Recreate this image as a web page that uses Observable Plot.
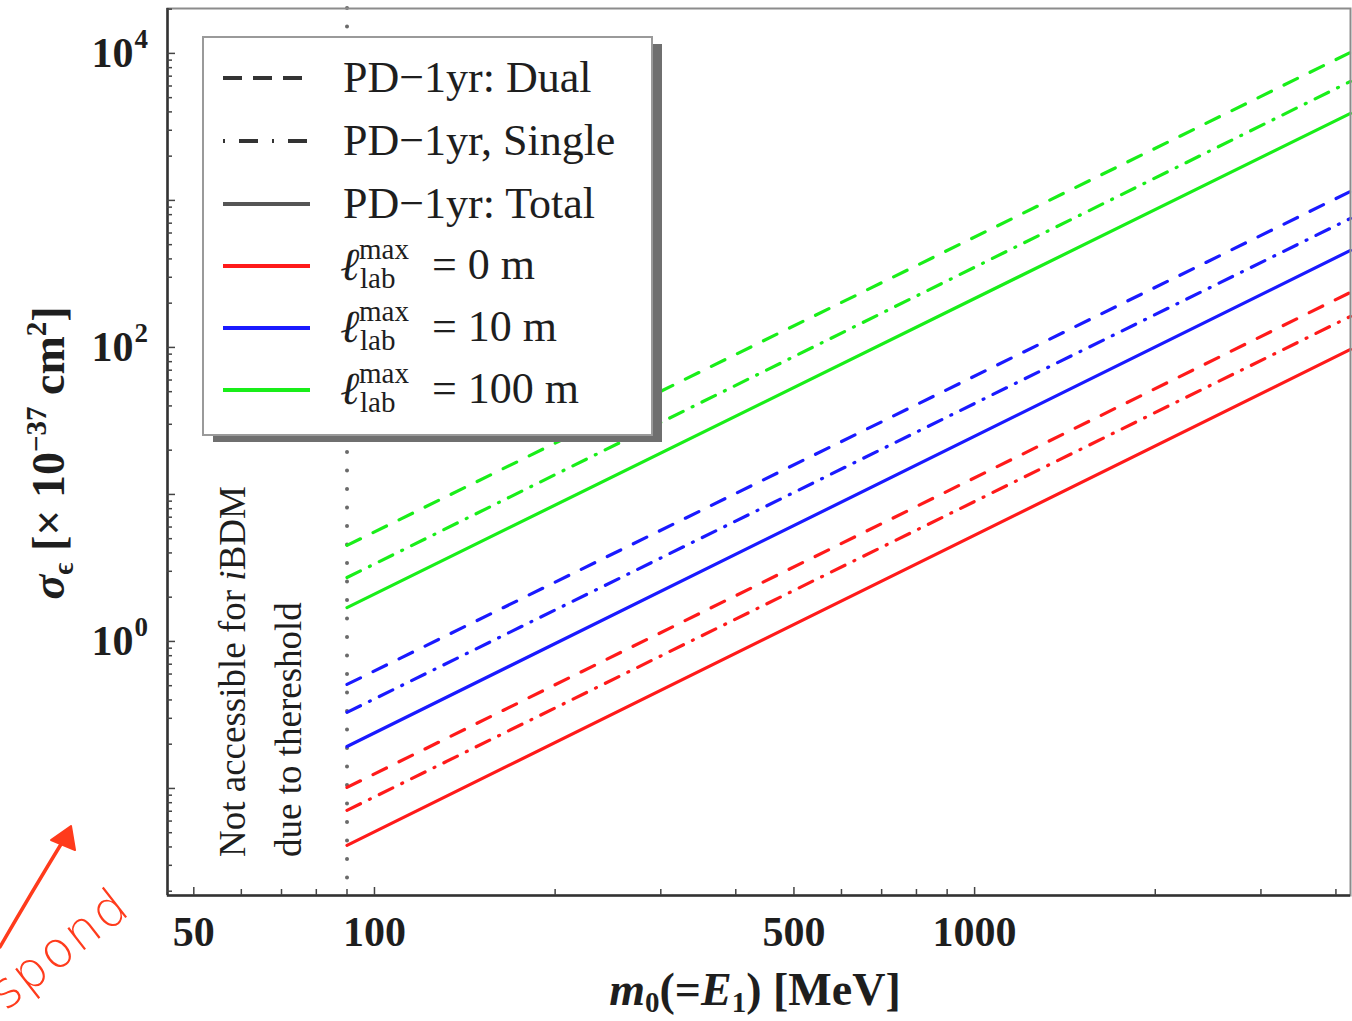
<!DOCTYPE html>
<html>
<head>
<meta charset="utf-8">
<script src="https://cdn.jsdelivr.net/npm/d3@7"></script>
<script src="https://cdn.jsdelivr.net/npm/@observablehq/plot@0.6"></script>
<style>
  body { margin: 0; background: #fff; }
  #chart { position: relative; width: 1352px; height: 1021px; }
</style>
</head>
<body>
<div id="chart"></div>
<script>
// Maximum lab-frame decay length cases, one colour each
const decayLengths = ["0 m", "10 m", "100 m"];
const lineColors = ["#ff1a1a", "#1a1aff", "#19ee19"];

// Every sensitivity curve is a straight power law on log–log axes,
// so each one is given by its values at the two ends of the mass range.
const massEnds = [90, 4230];                       // m0 (=E1) in MeV
const dualSigma   = [[0.1016, 237], [0.510, 1151], [4.50, 10160]];
const singleSigma = [[0.0709, 162.5], [0.329, 754], [2.72, 6450]];
const totalSigma  = [[0.041, 96.9], [0.193, 457], [1.70, 3905]];

// Threshold below which iBDM is not accessible
const thresholdMass = [90];

// Axis ticks
const xLabelTicks = [50, 100, 500, 1000];
const xMinorTicks = [60, 70, 80, 90, 200, 300, 400, 600, 700, 800, 900, 2000, 3000, 4000];
const yLabelTicks = [1, 100, 10000];
const yDecades = [0.1, 1, 10, 100, 1000, 10000];
const yMinorMultipliers = [2, 3, 4, 5, 6, 7, 8, 9];

const xDomain = [45.2, 4230];
const yDomain = [0.0187, 20200];

const W = 1352, H = 1021;
const M = { top: 8, right: 2, bottom: 126, left: 167 };
const plotW = W - M.left - M.right;
const plotH = H - M.top - M.bottom;

const yMinorTicks = [];
[0.01, 0.1, 1, 10, 100, 1000, 10000].forEach(dec =>
  yMinorMultipliers.forEach(k => {
    const v = k * dec;
    if (v > yDomain[0] && v < yDomain[1]) yMinorTicks.push(v);
  })
);

// Long-format table for the line marks
const rows = [];
[["dual", dualSigma], ["single", singleSigma], ["total", totalSigma]].forEach(([kind, arr]) => {
  arr.forEach((pair, i) => {
    pair.forEach((s, j) => rows.push({ kind, length: decayLengths[i], color: lineColors[i], m: massEnds[j], sigma: s }));
  });
});

const dashes = { dual: "15,14", single: "15,10,1,10", total: null };

const serif = "'Liberation Serif', 'Times New Roman', serif";

const plot = Plot.plot({
  width: W,
  height: H,
  marginTop: M.top,
  marginRight: M.right,
  marginBottom: M.bottom,
  marginLeft: M.left,
  x: { type: "log", domain: xDomain, axis: null },
  y: { type: "log", domain: yDomain, axis: null },
  style: { fontFamily: serif, background: "#fff", color: "#222" },
  marks: [
    Plot.ruleX(thresholdMass, { stroke: "#6a6a6a", strokeWidth: 4, strokeDasharray: "0,18.5", strokeLinecap: "round" }),
    ...["dual", "single", "total"].map(kind =>
      Plot.line(rows.filter(d => d.kind === kind), {
        x: "m", y: "sigma", z: "length", stroke: "color",
        strokeWidth: 3.2,
        strokeLinecap: "round",
        ...(dashes[kind] ? { strokeDasharray: dashes[kind] } : {})
      })
    ),
    // frame: grey top/right, dark left/bottom axes
    Plot.frame({ stroke: "#8c8c8c", strokeWidth: 2 }),
    Plot.ruleX([xDomain[0]], { stroke: "#333", strokeWidth: 2.5 }),
    Plot.ruleY([yDomain[0]], { stroke: "#333", strokeWidth: 2.5 }),
    // inward-pointing ticks
    Plot.ruleX(xMinorTicks, { insetTop: plotH - 6, stroke: "#444", strokeWidth: 1.5 }),
    Plot.ruleX(xLabelTicks, { insetTop: plotH - 8, stroke: "#444", strokeWidth: 1.5 }),
    Plot.ruleY(yMinorTicks, { insetRight: plotW - 5, stroke: "#444", strokeWidth: 1.5 }),
    Plot.ruleY(yDecades, { insetRight: plotW - 8, stroke: "#444", strokeWidth: 1.5 }),
    // tick labels
    Plot.text(xLabelTicks, {
      x: d => d, text: d => String(d), frameAnchor: "bottom", dy: 37,
      fontSize: 42, fontWeight: "bold", lineAnchor: "middle", fill: "#1e1e1e"
    }),
    Plot.text(yLabelTicks, {
      y: d => d, text: () => "10", frameAnchor: "left", dx: -34, textAnchor: "end",
      fontSize: 42, fontWeight: "bold", lineAnchor: "middle", fill: "#1e1e1e"
    }),
    Plot.text(yLabelTicks, {
      y: d => d, text: d => String(Math.round(Math.log10(d))), frameAnchor: "left", dx: -33, dy: -14,
      textAnchor: "start", fontSize: 27, fontWeight: "bold", lineAnchor: "middle", fill: "#1e1e1e"
    })
  ]
});

document.getElementById("chart").appendChild(plot);

const svg = d3.select(plot);
const ink = "#1e1e1e";

function styled(sel, size, anchor) {
  return sel.style("font-family", serif).style("font-size", size + "px")
    .style("text-anchor", anchor).attr("fill", ink);
}

// Y axis title
const yl = styled(svg.append("text"), 46, "middle")
  .attr("transform", "translate(64,453) rotate(-90)")
  .style("font-weight", "bold");
yl.append("tspan").style("font-style", "italic").text("σ");
yl.append("tspan").style("font-size", "29px").attr("dy", 9).text("ϵ");
yl.append("tspan").attr("dy", -9).text(" [× 10");
yl.append("tspan").style("font-size", "29px").attr("dy", -18).text("−37");
yl.append("tspan").attr("dy", 18).text(" cm");
yl.append("tspan").style("font-size", "29px").attr("dy", -18).text("2");
yl.append("tspan").attr("dy", 18).text("]");

// X axis title
const xl = styled(svg.append("text"), 46, "middle")
  .attr("x", 755).attr("y", 1005)
  .style("font-weight", "bold");
xl.append("tspan").style("font-style", "italic").text("m");
xl.append("tspan").style("font-size", "29px").attr("dy", 7).text("0");
xl.append("tspan").attr("dy", -7).text("(=");
xl.append("tspan").style("font-style", "italic").text("E");
xl.append("tspan").style("font-size", "29px").attr("dy", 7).text("1");
xl.append("tspan").attr("dy", -7).text(") [MeV]");

// Note in the inaccessible region
const n1 = styled(svg.append("text"), 37, "start").attr("transform", "translate(245,857) rotate(-90)");
n1.append("tspan").text("Not accessible for ");
n1.append("tspan").style("font-style", "italic").text("i");
n1.append("tspan").text("BDM");
styled(svg.append("text"), 37, "start").attr("transform", "translate(301,857) rotate(-90)").text("due to thereshold");

// Legend
const lg = svg.append("g");
lg.append("rect").attr("x", 213).attr("y", 44).attr("width", 449).attr("height", 398).attr("fill", "#6f6f6f");
lg.append("rect").attr("x", 203).attr("y", 37).attr("width", 449).attr("height", 398)
  .attr("fill", "#fff").attr("stroke", "#9a9a9a").attr("stroke-width", 2);

const legendRows = [
  { label: "PD−1yr: Dual", color: "#333", dash: "19,11" },
  { label: "PD−1yr, Single", color: "#333", dash: "2,14,19,14" },
  { label: "PD−1yr: Total", color: "#555", dash: null },
  { ell: "0 m", color: lineColors[0], dash: null },
  { ell: "10 m", color: lineColors[1], dash: null },
  { ell: "100 m", color: lineColors[2], dash: null }
];
const rowY = [78, 141, 204, 266, 328, 390];
legendRows.forEach((r, i) => {
  const cy = rowY[i];
  const ln = lg.append("line").attr("x1", 223).attr("x2", 310).attr("y1", cy).attr("y2", cy)
    .attr("stroke", r.color).attr("stroke-width", 4);
  if (r.dash) ln.attr("stroke-dasharray", r.dash);
  if (r.label) {
    styled(lg.append("text"), 44, "start").attr("x", 343).attr("y", cy + 14).text(r.label);
  } else {
    styled(lg.append("text"), 46, "start").attr("x", 340).attr("y", cy + 14).style("font-style", "italic").text("ℓ");
    styled(lg.append("text"), 29, "start").attr("x", 359).attr("y", cy - 7).text("max");
    styled(lg.append("text"), 29, "start").attr("x", 360).attr("y", cy + 22).text("lab");
    styled(lg.append("text"), 44, "start").attr("x", 432).attr("y", cy + 13).text("= " + r.ell);
  }
});

// Hand-drawn reply mark in the lower-left corner
const hand = svg.append("g").attr("fill", "#ff3b1c").attr("stroke", "#ff3b1c");
hand.append("path").attr("d", "M0,947 Q30,895 66,836").attr("fill", "none").attr("stroke-width", 3.5).attr("stroke-linecap", "round");
hand.append("path").attr("d", "M71,826 L51,840 L75,850 Z").attr("stroke-width", 2).attr("stroke-linejoin", "round");
hand.append("text")
  .attr("transform", "translate(133,912) rotate(-38)")
  .attr("stroke", "none")
  .style("text-anchor", "end")
  .style("font-family", "'DejaVu Sans', sans-serif")
  .style("font-size", "50px")
  .style("font-weight", "300")
  .style("letter-spacing", "2px")
  .text("respond");
</script>
</body>
</html>
